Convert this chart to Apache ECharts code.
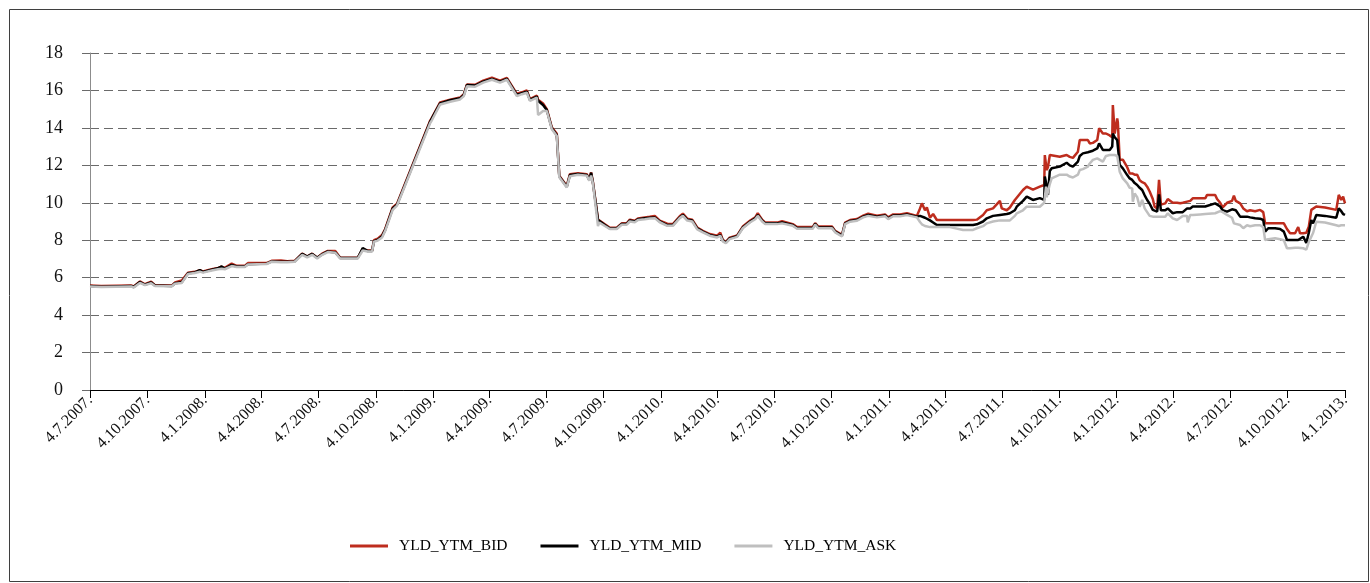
<!DOCTYPE html>
<html>
<head>
<meta charset="utf-8">
<script src="https://cdn.jsdelivr.net/npm/echarts@6/dist/echarts.min.js"></script>
<style>
html,body{margin:0;padding:0;background:#fff;}
#c{width:1370px;height:583px;}
</style>
</head>
<body>
<div id="c"></div>
<script>
const seriesNames = ['YLD_YTM_BID', 'YLD_YTM_MID', 'YLD_YTM_ASK'];
const xTickLabels = ['4.7.2007.','4.10.2007.','4.1.2008.','4.4.2008.','4.7.2008.','4.10.2008.','4.1.2009.','4.4.2009.','4.7.2009.','4.10.2009.','4.1.2010.','4.4.2010.','4.7.2010.','4.10.2010.','4.1.2011.','4.4.2011.','4.7.2011.','4.10.2011.','4.1.2012.','4.4.2012.','4.7.2012.','4.10.2012.','4.1.2013.'];
const yTicks = [0, 2, 4, 6, 8, 10, 12, 14, 16, 18];

const dates = [
'2007-07-04','2007-07-22','2007-09-08','2007-09-12','2007-09-22','2007-09-30','2007-10-10','2007-10-16','2007-11-12','2007-11-17',
'2007-11-28','2007-12-08','2007-12-19','2007-12-27','2008-01-01','2008-01-15','2008-01-25','2008-01-31','2008-02-05','2008-02-16',
'2008-02-24','2008-03-08','2008-03-13','2008-04-12','2008-04-20','2008-05-05','2008-05-07','2008-05-15','2008-05-27','2008-06-08',
'2008-06-16','2008-06-24','2008-07-02','2008-07-10','2008-07-19','2008-07-31','2008-08-08','2008-09-05','2008-09-13','2008-09-21',
'2008-09-28','2008-10-01','2008-10-07','2008-10-14','2008-10-19','2008-10-31','2008-11-07','2008-12-30','2009-01-02','2009-01-15',
'2009-01-31','2009-02-16','2009-02-22','2009-02-27','2009-03-12','2009-03-25','2009-04-08','2009-04-21','2009-05-02','2009-05-18',
'2009-05-26','2009-06-03','2009-06-08','2009-06-19','2009-06-21','2009-06-29','2009-07-05','2009-07-13','2009-07-21','2009-07-25',
'2009-08-06','2009-08-11','2009-08-24','2009-09-07','2009-09-11','2009-09-14','2009-09-17','2009-09-25','2009-09-27','2009-10-06',
'2009-10-14','2009-10-25','2009-11-02','2009-11-10','2009-11-15','2009-11-23','2009-11-28','2009-12-09','2009-12-17','2009-12-25',
'2010-01-02','2010-01-14','2010-01-23','2010-02-03','2010-02-08','2010-02-15','2010-02-23','2010-03-03','2010-03-12','2010-03-23',
'2010-04-04','2010-04-09','2010-04-13','2010-04-18','2010-04-24','2010-05-06','2010-05-15','2010-05-27','2010-06-04','2010-06-08',
'2010-06-15','2010-06-20','2010-07-09','2010-07-17','2010-08-03','2010-08-10','2010-09-04','2010-09-08','2010-09-13','2010-10-05',
'2010-10-10','2010-10-21','2010-10-26','2010-11-03','2010-11-14','2010-11-24','2010-12-02','2010-12-16','2010-12-29','2011-01-03',
'2011-01-11','2011-01-22','2011-02-02','2011-02-18','2011-02-23','2011-02-26','2011-03-03','2011-03-06','2011-03-11','2011-03-16',
'2011-03-22','2011-04-12','2011-05-03','2011-05-19','2011-05-25','2011-06-04','2011-06-10','2011-06-20','2011-07-01','2011-07-04',
'2011-07-12','2011-07-17','2011-07-25','2011-07-28','2011-08-07','2011-08-13','2011-08-23','2011-09-03','2011-09-10','2011-09-11',
'2011-09-13','2011-09-14','2011-09-16','2011-09-19','2011-09-22','2011-10-05','2011-10-08','2011-10-16','2011-10-21','2011-10-26',
'2011-10-29','2011-11-03','2011-11-06','2011-11-11','2011-11-19','2011-11-22','2011-11-27','2011-12-04','2011-12-07','2011-12-13',
'2011-12-18','2011-12-24','2011-12-28','2011-12-29','2012-01-01','2012-01-05','2012-01-06','2012-01-09','2012-01-14','2012-01-21',
'2012-01-25','2012-01-29','2012-01-30','2012-02-02','2012-02-06','2012-02-10','2012-02-14','2012-02-18','2012-02-22','2012-02-26',
'2012-03-02','2012-03-05','2012-03-09','2012-03-12','2012-03-15','2012-03-22','2012-03-26','2012-04-03','2012-04-10','2012-04-15',
'2012-04-19','2012-04-26','2012-04-27','2012-05-01','2012-05-05','2012-05-17','2012-05-25','2012-05-28','2012-06-10','2012-06-13',
'2012-06-18','2012-06-22','2012-06-29','2012-07-07','2012-07-10','2012-07-13','2012-07-20','2012-07-25','2012-07-31','2012-08-05',
'2012-08-13','2012-08-21','2012-08-26','2012-08-29','2012-09-03','2012-09-14','2012-09-22','2012-09-28','2012-10-03','2012-10-08',
'2012-10-16','2012-10-21','2012-10-24','2012-10-29','2012-11-03','2012-11-07','2012-11-11','2012-11-14','2012-11-19','2012-12-03',
'2012-12-21','2012-12-25','2012-12-29','2013-01-01','2013-01-04'
];

const bid = [
5.58,5.55,5.58,5.53,5.80,5.65,5.78,5.60,5.58,5.74,
5.85,6.26,6.31,6.40,6.33,6.45,6.52,6.58,6.52,6.75,
6.63,6.63,6.78,6.78,6.90,6.92,6.88,6.88,6.90,7.28,
7.13,7.28,7.07,7.28,7.43,7.42,7.07,7.07,7.52,7.45,
7.45,8.00,8.08,8.28,8.60,9.75,9.95,14.38,14.55,15.36,
15.50,15.62,15.80,16.32,16.30,16.52,16.68,16.52,16.67,15.82,
15.90,16.00,15.54,15.72,15.50,15.30,15.00,14.03,13.68,11.45,
10.90,11.53,11.58,11.53,11.26,11.62,11.08,9.10,9.02,8.85,
8.67,8.67,8.90,8.90,9.10,9.04,9.16,9.22,9.25,9.30,
9.04,8.88,8.86,9.28,9.42,9.15,9.10,8.68,8.50,8.33,
8.24,8.40,8.02,7.92,8.14,8.26,8.73,9.05,9.22,9.45,
9.10,8.94,8.94,9.02,8.86,8.70,8.70,8.91,8.73,8.73,
8.50,8.29,8.94,9.08,9.13,9.31,9.42,9.31,9.38,9.22,
9.38,9.38,9.44,9.30,9.70,9.97,9.60,9.75,9.20,9.40,
9.08,9.08,9.08,9.08,9.10,9.35,9.60,9.70,10.10,9.70,
9.60,9.75,10.15,10.20,10.68,10.86,10.70,10.86,10.95,12.55,
12.00,11.75,11.90,12.55,12.50,12.46,12.50,12.55,12.45,12.40,
12.45,12.73,13.35,13.35,13.35,13.17,13.20,13.35,13.98,13.70,
13.70,13.60,13.50,15.22,13.70,14.51,14.30,12.30,12.30,11.90,
11.57,11.57,11.55,11.50,11.50,11.20,11.10,11.04,10.86,10.60,
10.20,9.79,9.70,11.22,9.90,9.97,10.20,10.00,10.00,9.97,
10.00,10.06,10.06,10.10,10.24,10.24,10.24,10.42,10.42,10.20,
10.00,9.75,10.00,10.10,10.38,10.10,9.97,9.70,9.55,9.60,
9.55,9.62,9.50,8.90,8.90,8.90,8.90,8.90,8.60,8.37,
8.37,8.70,8.37,8.37,8.40,8.72,9.62,9.70,9.80,9.75,
9.62,10.42,10.15,10.33,9.97
];

const mid = [
5.55,5.52,5.55,5.50,5.77,5.62,5.75,5.58,5.55,5.70,
5.75,6.23,6.28,6.40,6.30,6.42,6.50,6.60,6.48,6.68,
6.60,6.60,6.72,6.75,6.87,6.85,6.78,6.85,6.87,7.27,
7.12,7.27,7.06,7.25,7.40,7.35,7.05,7.05,7.58,7.42,
7.42,7.95,8.02,8.22,8.55,9.70,9.90,14.33,14.52,15.31,
15.48,15.58,15.76,16.29,16.26,16.47,16.62,16.47,16.62,15.76,
15.85,15.94,15.49,15.67,15.45,15.22,14.95,13.98,13.62,11.40,
10.86,11.48,11.54,11.49,11.22,11.60,11.04,9.08,9.00,8.81,
8.63,8.63,8.87,8.87,9.05,9.00,9.12,9.17,9.20,9.22,
9.00,8.81,8.81,9.22,9.35,9.10,9.05,8.63,8.46,8.28,
8.19,8.28,7.98,7.88,8.10,8.22,8.68,9.00,9.17,9.35,
9.05,8.90,8.90,8.95,8.81,8.65,8.65,8.87,8.68,8.68,
8.46,8.25,8.90,9.03,9.08,9.26,9.35,9.26,9.32,9.17,
9.32,9.32,9.38,9.26,9.30,9.25,9.20,9.10,9.06,8.95,
8.81,8.81,8.81,8.81,8.85,9.00,9.17,9.30,9.35,9.35,
9.40,9.44,9.60,9.79,10.10,10.33,10.15,10.25,10.15,11.40,
11.40,10.90,10.42,11.70,11.84,11.93,11.95,12.14,12.00,11.93,
11.95,12.20,12.50,12.64,12.70,12.75,12.78,12.90,13.17,12.82,
12.82,12.82,13.00,13.70,13.50,13.35,13.00,12.02,11.84,11.48,
11.30,11.22,11.15,11.05,10.95,10.80,10.68,10.40,10.15,9.95,
9.62,9.55,9.53,10.45,9.60,9.60,9.70,9.44,9.50,9.50,
9.50,9.70,9.65,9.70,9.80,9.80,9.80,9.85,9.97,9.97,
9.80,9.60,9.53,9.65,9.70,9.60,9.26,9.26,9.26,9.22,
9.17,9.15,9.08,8.46,8.64,8.64,8.60,8.46,8.01,8.01,
8.01,8.01,8.01,8.19,7.85,8.40,9.08,8.90,9.35,9.30,
9.20,9.70,9.55,9.40,9.35
];

const ask = [
5.53,5.50,5.53,5.47,5.72,5.60,5.70,5.56,5.54,5.68,
5.72,6.20,6.25,6.32,6.27,6.38,6.45,6.48,6.45,6.62,
6.57,6.57,6.70,6.73,6.85,6.83,6.74,6.83,6.85,7.22,
7.08,7.22,7.02,7.22,7.37,7.33,7.02,7.02,7.45,7.40,
7.40,7.92,7.98,8.15,8.50,9.62,9.85,14.25,14.42,15.25,
15.40,15.52,15.70,16.22,16.20,16.42,16.57,16.42,16.57,15.70,
15.80,15.88,15.44,15.62,14.69,14.90,14.90,13.93,13.57,11.36,
10.82,11.42,11.50,11.45,11.18,11.45,11.00,8.75,8.95,8.76,
8.60,8.60,8.83,8.83,9.00,8.96,9.08,9.12,9.16,9.18,
8.96,8.77,8.77,9.18,9.30,9.05,9.00,8.58,8.42,8.24,
8.15,8.24,7.94,7.84,8.06,8.18,8.64,8.96,9.12,9.30,
9.00,8.86,8.86,8.90,8.77,8.61,8.61,8.83,8.64,8.64,
8.42,8.20,8.86,8.99,9.04,9.22,9.30,9.22,9.28,9.13,
9.28,9.28,9.34,9.22,8.97,8.85,8.76,8.72,8.70,8.70,
8.70,8.70,8.55,8.55,8.64,8.75,8.90,9.00,9.06,9.06,
9.06,9.06,9.30,9.44,9.60,9.79,9.79,9.79,10.00,10.06,
10.86,10.30,10.24,11.00,11.30,11.50,11.57,11.50,11.40,11.35,
11.30,11.50,11.75,11.80,11.93,12.10,12.29,12.37,12.46,12.20,
12.50,12.55,12.55,12.55,12.55,12.50,12.30,11.66,11.30,11.04,
10.80,10.77,10.06,10.50,10.30,9.79,10.15,9.70,9.50,9.30,
9.26,9.26,9.26,9.26,9.26,9.26,9.44,9.17,9.08,9.20,
9.30,9.30,8.95,9.35,9.35,9.38,9.40,9.40,9.44,9.50,
9.55,9.50,9.35,9.20,8.90,8.81,8.81,8.64,8.80,8.75,
8.80,8.80,8.70,8.01,8.05,8.10,8.05,8.00,7.57,7.57,
7.60,7.60,7.60,7.57,7.50,7.90,8.19,8.40,8.99,8.95,
8.80,8.76,8.80,8.76,8.80
];

const colors = ['#BE2D1E', '#000000', '#BFBFBF'];

function toTs(s) {
  const p = s.split('-').map(Number);
  return Date.UTC(p[0], p[1] - 1, p[2]);
}
function labelToTs(l) {
  const p = l.split('.');
  return Date.UTC(+p[2], +p[1] - 1, +p[0]);
}
const tickTs = xTickLabels.map(labelToTs);
const xs = dates.map(toTs);
const valueSets = [bid, mid, ask];

const chart = echarts.init(document.getElementById('c'), null, {renderer: 'canvas'});
const font = '"Liberation Serif", "DejaVu Serif", serif';

chart.setOption({
  animation: false,
  backgroundColor: '#ffffff',
  graphic: [{
    type: 'rect',
    shape: {x: 9.5, y: 9.5, width: 1359, height: 572},
    style: {fill: 'none', stroke: '#3f3f3f', lineWidth: 1},
    silent: true,
    z: -1
  }],
  grid: {left: 90, right: 25, top: 53, bottom: 193, containLabel: false},
  legend: {
    data: seriesNames,
    left: 345,
    top: 533,
    icon: 'rect',
    itemWidth: 38,
    itemHeight: 3,
    itemGap: 33,
    textStyle: {fontFamily: font, fontSize: 15.5, color: '#000', padding: [0, 0, 0, 6]}
  },
  xAxis: {
    type: 'value',
    min: tickTs[0],
    max: tickTs[tickTs.length - 1],
    axisLine: {show: true, onZero: false, lineStyle: {color: '#000', width: 1}},
    axisTick: {show: true, length: 8, customValues: tickTs, lineStyle: {color: '#000', width: 1}},
    axisLabel: {
      show: true,
      customValues: tickTs,
      rotate: 45,
      margin: 8,
      hideOverlap: false,
      fontFamily: font,
      fontSize: 16,
      color: '#111',
      formatter: function (v) {
        let best = 0, bd = Infinity;
        for (let i = 0; i < tickTs.length; i++) {
          const d = Math.abs(tickTs[i] - v);
          if (d < bd) { bd = d; best = i; }
        }
        return xTickLabels[best];
      }
    },
    splitLine: {show: false}
  },
  yAxis: {
    type: 'value',
    min: yTicks[0],
    max: yTicks[yTicks.length - 1],
    interval: 2,
    axisLine: {show: true, lineStyle: {color: '#8c8c8c', width: 1}},
    axisTick: {show: true, length: 8, lineStyle: {color: '#6a6a6a', width: 1}},
    axisLabel: {margin: 27, fontFamily: font, fontSize: 18, color: '#111'},
    splitLine: {show: true, lineStyle: {color: '#6a6a6a', width: 1, type: [9, 5]}}
  },
  series: seriesNames.map((name, k) => ({
    name: name,
    type: 'line',
    showSymbol: false,
    symbol: 'none',
    color: colors[k],
    lineStyle: {color: colors[k], width: 2.5},
    data: xs.map((x, i) => [x, valueSets[k][i]]),
    z: 2 + k
  }))
});
</script>
</body>
</html>
